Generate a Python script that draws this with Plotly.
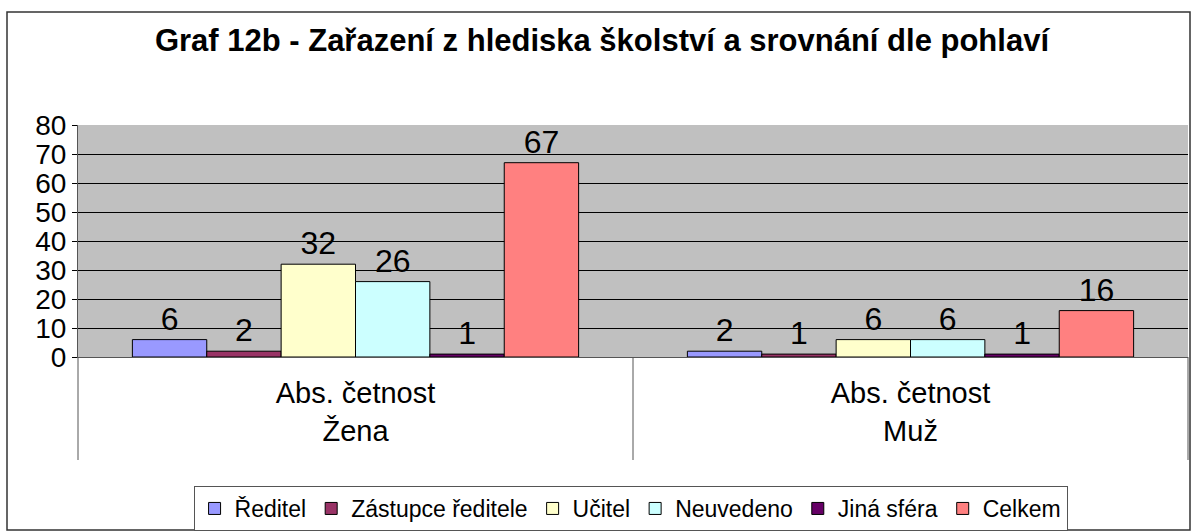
import plotly.graph_objects as go

genders = ["Žena", "Muž"]
measure = ["Abs. četnost", "Abs. četnost"]
series_names = ["Ředitel", "Zástupce ředitele", "Učitel", "Neuvedeno", "Jiná sféra", "Celkem"]
series_values = [
    [6, 2],
    [2, 1],
    [32, 6],
    [26, 6],
    [1, 1],
    [67, 16],
]
series_colors = ["#9999FF", "#993366", "#FFFFCC", "#CCFFFF", "#660066", "#FF8080"]
y_ticks = [0, 10, 20, 30, 40, 50, 60, 70, 80]

FONT = "Liberation Sans, Arial, sans-serif"

fig = go.Figure()
for name, vals, col in zip(series_names, series_values, series_colors):
    fig.add_trace(go.Bar(
        name=name,
        x=genders,
        y=vals,
        marker=dict(color=col, line=dict(color="black", width=1)),
        text=[str(v) for v in vals],
        textposition="outside",
        textfont=dict(family=FONT, size=32, color="black"),
        cliponaxis=False,
    ))

fig.update_layout(
    width=1192, height=531,
    margin=dict(l=78, r=4, t=125, b=174, autoexpand=False),
    paper_bgcolor="white",
    plot_bgcolor="#C0C0C0",
    barmode="group",
    bargap=0.196,
    bargroupgap=0,
    font=dict(family=FONT, color="black"),
    title=dict(
        text="<b>Graf 12b - Zařazení z hlediska školství a srovnání dle pohlaví</b>",
        font=dict(family=FONT, size=31, color="black"),
        x=0.505, xanchor="center", xref="container",
        y=1 - 40 / 531, yanchor="middle", yref="container",
    ),
    legend=dict(
        orientation="h",
        x=0.529, xanchor="center", xref="container",
        y=0.0, yanchor="bottom", yref="container",
        bordercolor="#555555", borderwidth=1,
        font=dict(family=FONT, size=23, color="black"),
        itemwidth=30,
        tracegroupgap=0,
    ),
    showlegend=True,
)

fig.update_yaxes(
    range=[0, 80],
    tickvals=y_ticks,
    ticks="outside", ticklen=5, tickcolor="black",
    showgrid=True, gridcolor="black", gridwidth=1,
    showline=True, linecolor="#555555", linewidth=1,
    tickfont=dict(family=FONT, size=28, color="black"),
    zeroline=False,
    automargin=False,
)
fig.update_xaxes(
    type="category",
    tickvals=genders,
    ticktext=[f"{m}<br>{g}" for m, g in zip(measure, genders)],
    showline=True, linecolor="#555555", linewidth=1,
    tickfont=dict(family=FONT, size=29, color="black"),
    ticks="",
    ticklabelstandoff=10,
    automargin=False,
)

# category divider lines under the plot area
for xp in (0.0, 0.5, 1.0):
    fig.add_shape(
        type="line", xref="paper", yref="paper",
        x0=xp, x1=xp, y0=-103 / 232, y1=0,
        line=dict(color="#555555", width=1),
    )

fig.add_shape(
    type="rect", xref="paper", yref="paper",
    x0=-71 / 1110, x1=1 + 2 / 1110,
    y0=-173 / 232, y1=1 + 113 / 232,
    line=dict(color="#333333", width=1.5),
    fillcolor="rgba(0,0,0,0)",
    layer="below",
)

fig.write_html(
    "out.html",
    config={"displayModeBar": False},
    post_script="document.body.style.margin='0';document.body.style.padding='0';",
)
